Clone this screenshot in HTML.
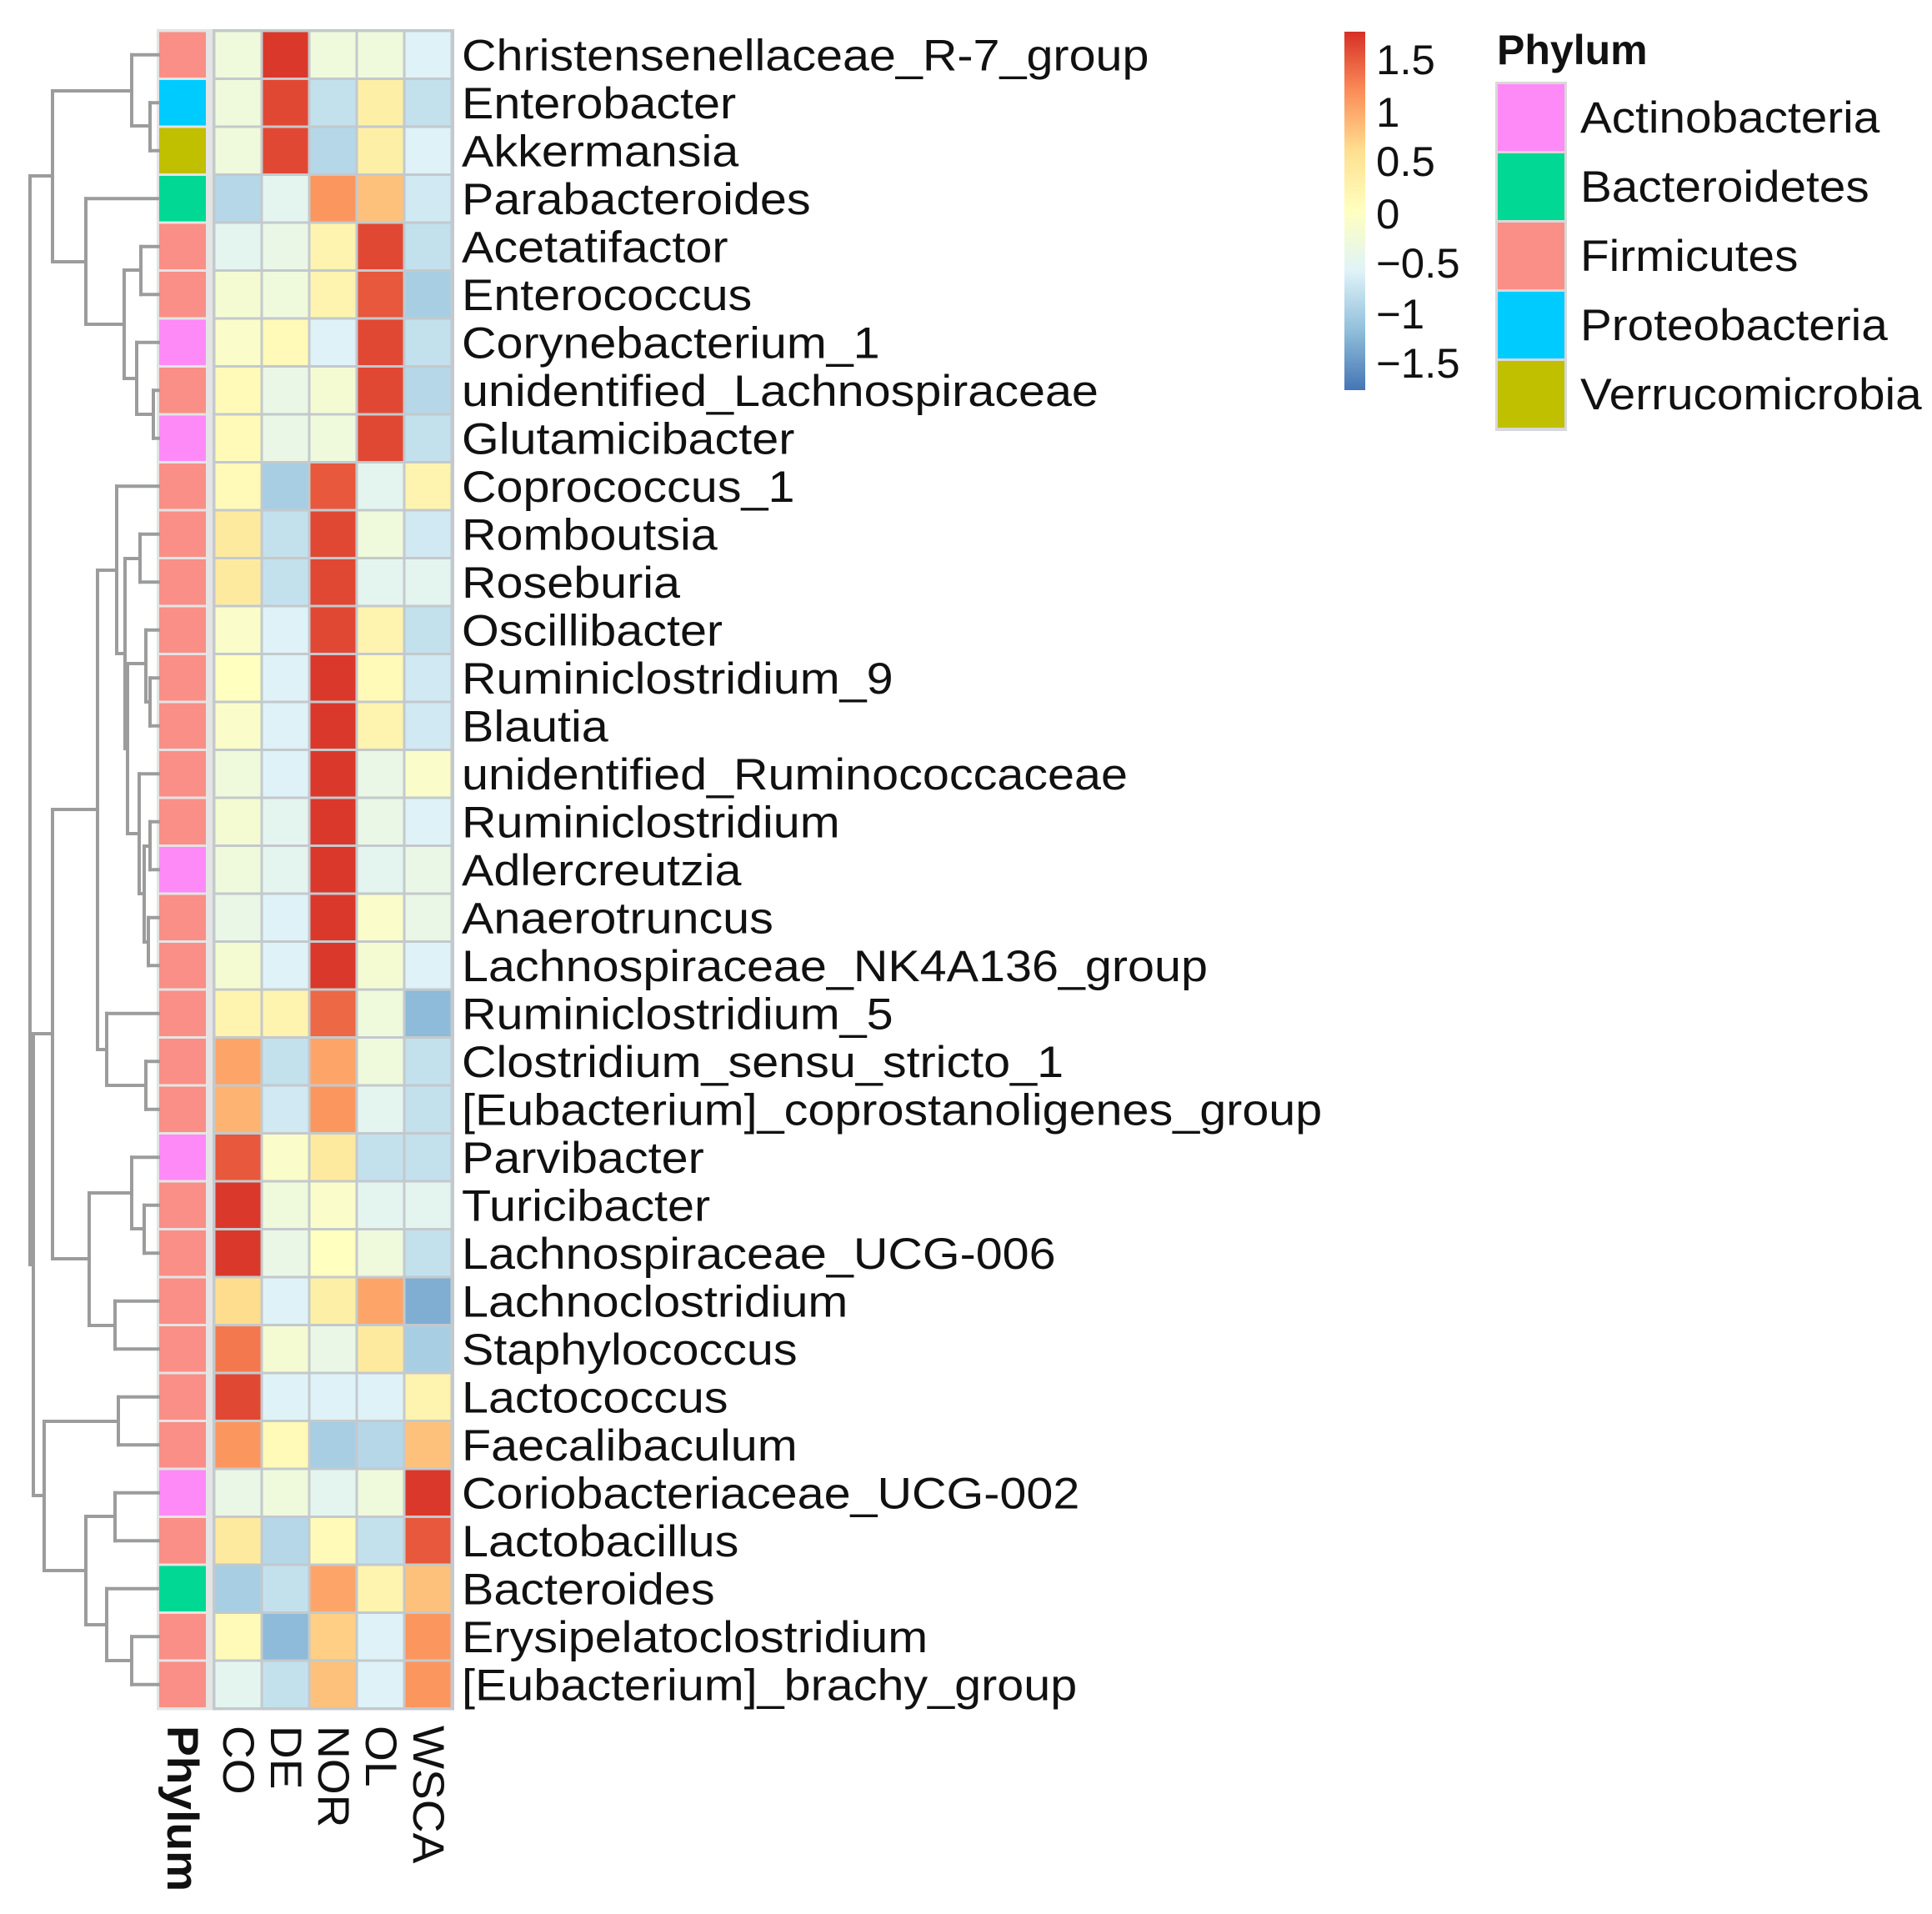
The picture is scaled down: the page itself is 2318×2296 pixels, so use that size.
<!DOCTYPE html>
<html><head><meta charset="utf-8"><style>
html,body{margin:0;padding:0;background:#fff;width:2318px;height:2296px;overflow:hidden}
svg text{font-family:"Liberation Sans",Arial,sans-serif;fill:#111}
</style></head><body>
<svg id="s" xmlns="http://www.w3.org/2000/svg" width="2318" height="2296" viewBox="0 0 2318 2296"></svg>
<script>
(function(){
var S=document.getElementById('s'),h='';
var names=["Christensenellaceae_R-7_group","Enterobacter","Akkermansia","Parabacteroides","Acetatifactor","Enterococcus","Corynebacterium_1","unidentified_Lachnospiraceae","Glutamicibacter","Coprococcus_1","Romboutsia","Roseburia","Oscillibacter","Ruminiclostridium_9","Blautia","unidentified_Ruminococcaceae","Ruminiclostridium","Adlercreutzia","Anaerotruncus","Lachnospiraceae_NK4A136_group","Ruminiclostridium_5","Clostridium_sensu_stricto_1","[Eubacterium]_coprostanoligenes_group","Parvibacter","Turicibacter","Lachnospiraceae_UCG-006","Lachnoclostridium","Staphylococcus","Lactococcus","Faecalibaculum","Coriobacteriaceae_UCG-002","Lactobacillus","Bacteroides","Erysipelatoclostridium","[Eubacterium]_brachy_group"];
var V=[[-0.3,1.7,-0.3,-0.3,-0.6],[-0.3,1.6,-0.8,0.3,-0.8],[-0.3,1.6,-0.9,0.3,-0.6],[-0.9,-0.5,1.1,0.8,-0.7],[-0.5,-0.4,0.2,1.6,-0.8],[-0.2,-0.3,0.2,1.5,-1.0],[-0.1,0.1,-0.6,1.6,-0.8],[0.1,-0.4,-0.2,1.6,-0.9],[0.1,-0.4,-0.3,1.6,-0.8],[0.1,-1.0,1.5,-0.5,0.2],[0.4,-0.8,1.6,-0.3,-0.7],[0.4,-0.8,1.6,-0.5,-0.5],[-0.1,-0.6,1.6,0.2,-0.8],[0.0,-0.6,1.7,0.1,-0.7],[-0.1,-0.6,1.7,0.2,-0.7],[-0.3,-0.6,1.7,-0.4,-0.1],[-0.2,-0.5,1.7,-0.4,-0.6],[-0.3,-0.5,1.7,-0.5,-0.4],[-0.4,-0.6,1.7,-0.1,-0.4],[-0.2,-0.6,1.7,-0.2,-0.6],[0.2,0.2,1.4,-0.3,-1.2],[1.0,-0.8,1.0,-0.3,-0.8],[0.9,-0.7,1.1,-0.5,-0.8],[1.5,-0.1,0.4,-0.8,-0.8],[1.7,-0.3,-0.1,-0.5,-0.5],[1.7,-0.4,0.0,-0.3,-0.8],[0.6,-0.6,0.3,1.0,-1.3],[1.3,-0.2,-0.4,0.4,-1.0],[1.6,-0.6,-0.6,-0.6,0.2],[1.1,0.1,-1.0,-0.9,0.8],[-0.4,-0.3,-0.5,-0.3,1.7],[0.4,-0.9,0.1,-0.8,1.5],[-1.0,-0.8,1.0,0.2,0.8],[0.1,-1.2,0.7,-0.6,1.1],[-0.5,-0.8,0.8,-0.6,1.1]];
var P="FPVBFFAFAFFFFFFFFAFFFFFAFFFFFFAFBFF";
var PC={A:"#fd8af6",B:"#00d893",F:"#f98f87",P:"#00cbff",V:"#c0bf00"};
var pal=[[69,117,180],[145,191,219],[224,243,248],[255,255,191],[254,224,144],[252,141,89],[215,48,39]];
function col(v){var t=(v+1.75)/3.5*6;t=Math.max(0,Math.min(5.999,t));var i=Math.floor(t),f=t-i,a=pal[i],b=pal[i+1];
return 'rgb('+[0,1,2].map(function(k){return Math.round(a[k]+(b[k]-a[k])*f)}).join(',')+')';}
var T0=37,rh=57.5;
function rc(i){return T0+rh*(i-0.5);}
h+='<rect x="188" y="'+(T0-2)+'" width="72" height="'+(rh*35+4)+'" fill="#e4e4e4"/>';
h+='<rect x="255" y="'+(T0-2)+'" width="290" height="'+(rh*35+4)+'" fill="#c3c9cc"/>';
for(var i=0;i<35;i++){var y=T0+rh*i;
 h+='<rect x="191" y="'+(y+1.5)+'" width="56" height="'+(rh-3)+'" fill="'+PC[P[i]]+'"/>';
 for(var j=0;j<5;j++){h+='<rect x="'+(258.5+57*j)+'" y="'+(y+1.5)+'" width="54" height="'+(rh-3)+'" fill="'+col(V[i][j])+'"/>';}
 h+='<text x="554" y="'+(rc(i+1)+19)+'" font-size="53" transform="translate(554 0) scale(1.085 1) translate(-554 0)">'+names[i].replace(/&/g,'&amp;')+'</text>';
}
var L=[];
function n(x,y1,y2,c1x,c2x){L.push([x,y1,x,y2]);L.push([x,y1,c1x,y1]);L.push([x,y2,c2x,y2]);}
var E=190;
n(180,rc(2),rc(3),E,E);
n(158,rc(1),151,E,180);
n(169,rc(5),rc(6),E,E);
n(184,rc(8),rc(9),E,E);
n(164,rc(7),497,E,184);
n(149,324,454,169,164);
n(103,rc(4),389,E,149);
n(63,109,314,158,103);
n(168,rc(11),rc(12),E,E);
n(180,rc(14),rc(15),E,E);
n(175,rc(13),842,E,180);
n(180,rc(17),rc(18),E,E);
n(178,rc(19),rc(20),E,E);
n(173,1015,1130,180,178);
n(167,rc(16),1072,E,173);
n(153,796,1000,175,167);
n(150,670,898,168,153);
n(140,rc(10),784,E,150);
n(175,rc(22),rc(23),E,E);
n(128,rc(21),1302,E,175);
n(117,684,1259,140,128);
n(173,rc(25),rc(26),E,E);
n(158,rc(24),1474,E,173);
n(138,rc(27),rc(28),E,E);
n(107,1431,1590,158,138);
n(63,971,1510,117,107);
n(142,rc(29),rc(30),E,E);
n(138,rc(31),rc(32),E,E);
n(158,rc(34),rc(35),E,E);
n(128,rc(33),1992,E,158);
n(103,1819,1949,138,128);
n(53,1705,1884,142,103);
n(40,1240,1794,63,53);
n(36,211,1517,63,40);
L.forEach(function(l){h+='<line x1="'+l[0]+'" y1="'+l[1]+'" x2="'+l[2]+'" y2="'+l[3]+'" stroke="#9c9c9c" stroke-width="4" stroke-linecap="square"/>';});
var cl=[["Phylum",219,1],["CO",286,0],["DE",343,0],["NOR",400,0],["OL",457,0],["WSCA",514,0]];
cl.forEach(function(c){h+='<text transform="translate('+(c[1]-18)+' 2070) rotate(90) scale(1.04 1)" font-size="53"'+(c[2]?' font-weight="bold"':'')+'>'+c[0]+'</text>';});
h+='<defs><linearGradient id="g" x1="0" y1="1" x2="0" y2="0">';
for(var k=0;k<7;k++)h+='<stop offset="'+(k/6)+'" stop-color="rgb('+pal[k].join(',')+')"/>';
h+='</linearGradient></defs><rect x="1613" y="38" width="25" height="430" fill="url(#g)"/>';
var tk=[["1.5",71],["1",134],["0.5",193],["0",256],["\u22120.5",315],["\u22121",376],["\u22121.5",435]];
tk.forEach(function(t){h+='<text x="1651" y="'+(t[1]+18)+'" font-size="50" transform="translate(1651 0) scale(1.02 1) translate(-1651 0)">'+t[0]+'</text>';});
h+='<text x="1796" y="77" font-size="50" font-weight="bold">Phylum</text>';
var lg=[["Actinobacteria","A"],["Bacteroidetes","B"],["Firmicutes","F"],["Proteobacteria","P"],["Verrucomicrobia","V"]];
h+='<rect x="1794" y="98" width="86" height="419" fill="#d8d8d8"/>';
lg.forEach(function(g,i){var y=101+83*i;h+='<rect x="1797" y="'+y+'" width="80" height="80" fill="'+PC[g[1]]+'"/>';
h+='<text x="1896" y="'+(y+58)+'" font-size="53" transform="translate(1896 0) scale(1.07 1) translate(-1896 0)">'+g[0]+'</text>';});
S.innerHTML=h;
})();
</script>
</body></html>
